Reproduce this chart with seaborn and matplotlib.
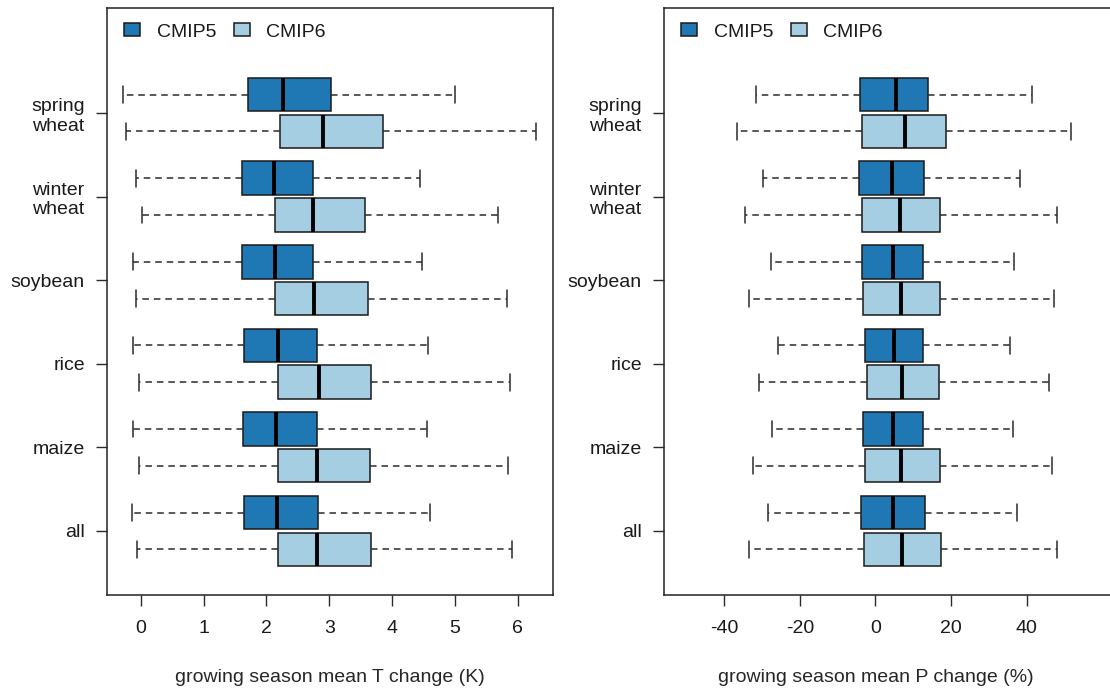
import pandas as pd
import seaborn as sns
import matplotlib.pyplot as plt
from matplotlib.patches import Patch

# five-number summaries (min, q1, median, q3, max)
crops = ["spring\nwheat", "winter\nwheat", "soybean", "rice", "maize", "all"]
models = ["CMIP5", "CMIP6"]

temp_cmip5 = [(-0.28, 1.71, 2.27, 3.03, 5.00),
              (-0.08, 1.61, 2.12, 2.75, 4.44),
              (-0.12, 1.61, 2.13, 2.75, 4.48),
              (-0.12, 1.64, 2.19, 2.81, 4.57),
              (-0.13, 1.63, 2.16, 2.80, 4.55),
              (-0.14, 1.64, 2.17, 2.82, 4.60)]
temp_cmip6 = [(-0.23, 2.22, 2.90, 3.85, 6.29),
              (0.02, 2.14, 2.75, 3.57, 5.69),
              (-0.08, 2.14, 2.76, 3.61, 5.83),
              (-0.02, 2.19, 2.83, 3.67, 5.88),
              (-0.02, 2.18, 2.81, 3.65, 5.84),
              (-0.06, 2.18, 2.81, 3.67, 5.91)]

prec_cmip5 = [(-31.6, -4.2, 5.4, 14.0, 41.3),
              (-29.8, -4.3, 4.3, 12.7, 38.1),
              (-27.7, -3.6, 4.6, 12.5, 36.7),
              (-25.9, -2.9, 4.9, 12.5, 35.6),
              (-27.3, -3.4, 4.5, 12.5, 36.3),
              (-28.3, -3.7, 4.6, 13.0, 37.5)]
prec_cmip6 = [(-36.6, -3.5, 7.8, 18.7, 51.7),
              (-34.6, -3.6, 6.5, 17.0, 48.0),
              (-33.5, -3.2, 6.7, 17.0, 47.3),
              (-30.9, -2.2, 7.1, 16.9, 45.8),
              (-32.3, -2.7, 6.7, 17.0, 46.6),
              (-33.5, -3.0, 7.1, 17.4, 47.9)]

colors = ["#1f78b4", "#a6cee3"]


def to_long(cmip5, cmip6):
    rows = []
    for model, stats in zip(models, [cmip5, cmip6]):
        for crop, five in zip(crops, stats):
            for v in five:
                rows.append({"crop": crop, "model": model, "value": v})
    return pd.DataFrame(rows)


sns.set_style("ticks")
plt.rcParams["font.family"] = ["Liberation Sans", "DejaVu Sans"]
plt.rcParams["axes.unicode_minus"] = False
plt.rcParams["text.color"] = "#1a1a1a"
plt.rcParams["xtick.labelcolor"] = "#1a1a1a"
plt.rcParams["ytick.labelcolor"] = "#1a1a1a"

fig = plt.figure(figsize=(11.1, 6.98), dpi=100)
W, H = 1110, 698
ax1 = fig.add_axes([107 / W, 1 - 595 / H, 446 / W, 587 / H])
# right panel runs past the image edge, as in the reference
ax2 = fig.add_axes([664 / W, 1 - 595 / H, 454 / W, 587 / H])

panels = [
    (ax1, temp_cmip5, temp_cmip6, "growing season mean T change (K)",
     (-0.536, 6.562), [0, 1, 2, 3, 4, 5, 6], 446),
    (ax2, prec_cmip5, prec_cmip6, "growing season mean P change (%)",
     (-55.9, 64.1), [-40, -20, 0, 20, 40], 454),
]

edge = "#1a1a1a"
for ax, c5, c6, xlabel, xlim, xticks, wpx in panels:
    df = to_long(c5, c6)
    sns.boxplot(data=df, x="value", y="crop", hue="model", order=crops,
                hue_order=models, orient="h", palette=colors, saturation=1,
                whis=(0, 100), width=0.88, gap=0.09, legend=False, ax=ax,
                boxprops=dict(edgecolor=edge, linewidth=1.1),
                whiskerprops=dict(color="#2b2b2b", linewidth=1.1,
                                  linestyle=(0, (4.3, 3.2))),
                capprops=dict(color="#2b2b2b", linewidth=1.1),
                medianprops=dict(color="black", linewidth=2.8))
    ax.set_xlim(*xlim)
    ax.set_ylim(5.766, -1.256)
    ax.set_xticks(xticks)
    ax.set_xticklabels([str(t) for t in xticks])
    ax.set_ylabel("")
    ax.set_xlabel(xlabel, fontsize=14)
    # label centred under x = 0 on the right panel, under the middle on the left
    xc = 0.5 if ax is ax1 else (0 - xlim[0]) / (xlim[1] - xlim[0])
    ax.xaxis.set_label_coords(xc, -0.126)
    ax.tick_params(axis="both", labelsize=14, length=8, width=1.0,
                   color="#2b2b2b", direction="out")
    ax.tick_params(axis="x", pad=10)
    ax.tick_params(axis="y", pad=8)
    for s in ax.spines.values():
        s.set_visible(True)
        s.set_linewidth(1.1)
        s.set_color("#222222")

    handles = [Patch(facecolor=c, edgecolor=edge, linewidth=1.1, label=m)
               for c, m in zip(colors, models)]
    ax.legend(handles=handles, loc="center left",
              bbox_to_anchor=(17.3 / wpx, (595 - 32) / 587), ncol=2,
              frameon=False, fontsize=14, borderpad=0, borderaxespad=0,
              handlelength=0.8, handleheight=0.6, handletextpad=0.86,
              columnspacing=0.93)

fig.savefig("out.png", dpi=100, facecolor="white")
